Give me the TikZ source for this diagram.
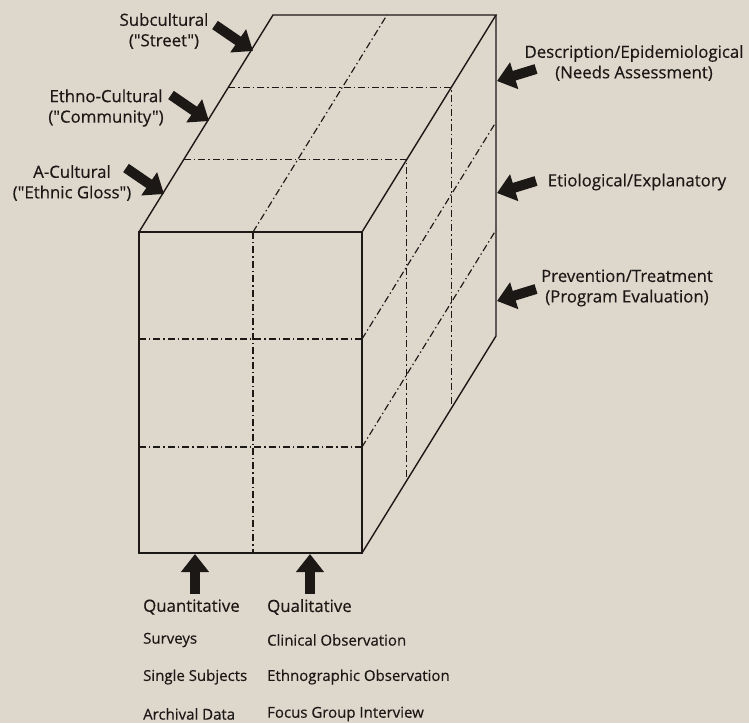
\documentclass[tikz,border=0pt]{standalone}
\usepackage{fontspec}
\newfontfamily\labfont{Open Sans}[FakeBold=0.4]
\usetikzlibrary{arrows.meta,calc}
\definecolor{paper}{RGB}{222,215,204}
\definecolor{ink}{RGB}{28,24,22}
\tikzset{
  edge/.style={draw=ink, line width=1.4pt, line join=miter},
  grid/.style={draw=ink, line width=1.15pt, dash pattern=on 7pt off 3pt on 1.4pt off 3pt},
  blockarrow/.style={draw=ink, line width=10pt, -{Triangle[width=27pt,length=18pt]}},
  lab/.style={text=ink, font=\labfont\fontsize{16.8}{20.5}\selectfont, align=center, inner sep=0pt},
  sub/.style={text=ink, font=\labfont\fontsize{15}{18}\selectfont, anchor=west, inner sep=0pt},
}
\begin{document}
\begin{tikzpicture}[x=1pt,y=-1pt]
\fill[paper] (0,0) rectangle (749,723);
\useasboundingbox (0,0) rectangle (749,723);

% corners of the box: front face and back edges
\coordinate (F1) at (139,232);
\coordinate (F2) at (362,232);
\coordinate (F3) at (362,553);
\coordinate (F4) at (139,553);
\coordinate (B1) at (273,15);
\coordinate (B2) at (496,15);
\coordinate (B3) at (496,336);

% grid lines on the three visible faces
\draw[grid] (253,232) -- (387,15);
\draw[grid] (253,232) -- (253,553);
\draw[grid] (139,339) -- (362,339);
\draw[grid] (139,447) -- (362,447);
\draw[grid] (228.3,87.3) -- (451.3,87.3) -- (451.3,408.3);
\draw[grid] (183.7,159.7) -- (406.7,159.7) -- (406.7,480.7);
\draw[grid] (362,339) -- (496,122);
\draw[grid] (362,447) -- (496,230);

% solid outline
\draw[edge] (F1) -- (F2) -- (F3) -- (F4) -- cycle;
\draw[edge] (F1) -- (B1) -- (B2) -- (F2);
\draw[edge] (B2) -- (B3) -- (F3);

% left labels
\node[lab] (sub) at (164,31) {Subcultural\\("Street")};
\node[lab] (eth) at (106,108) {Ethno-Cultural\\("Community")};
\node[lab] (acu) at (72,183) {A-Cultural\\("Ethnic Gloss")};
\coordinate (subT) at (215,25);  \coordinate (subH) at (253,51);
\coordinate (ethT) at (171,95);  \coordinate (ethH) at (209,121);
\coordinate (acuT) at (126,168); \coordinate (acuH) at (164,194);
\draw[blockarrow] (subT) -- (subH);
\draw[blockarrow] (ethT) -- (ethH);
\draw[blockarrow] (acuT) -- (acuH);

% right labels
\node[lab] (des) at (634,63) {Description/Epidemiological\\(Needs Assessment)};
\node[lab] (eti) at (637,182) {Etiological/Explanatory};
\node[lab] (pre) at (627,288) {Prevention/Treatment\\(Program Evaluation)};
\coordinate (desT) at (536,69);  \coordinate (desH) at (497,81);
\coordinate (etiT) at (536,181); \coordinate (etiH) at (497,193);
\coordinate (preT) at (536,289); \coordinate (preH) at (497,301);
\draw[blockarrow] (desT) -- (desH);
\draw[blockarrow] (etiT) -- (etiH);
\draw[blockarrow] (preT) -- (preH);

% bottom labels
\coordinate (qnT) at (195,594); \coordinate (qnH) at (195,554);
\coordinate (qlT) at (310,594); \coordinate (qlH) at (310,554);
\draw[blockarrow] (qnT) -- (qnH);
\draw[blockarrow] (qlT) -- (qlH);
\node[lab, anchor=west] (qn) at (143,607) {Quantitative};
\node[lab, anchor=west] (ql) at (267,607) {Qualitative};
\node[sub] (s1) at (143,640) {Surveys};
\node[sub] (s2) at (143,677) {Single Subjects};
\node[sub] (s3) at (143,714) {Archival Data};
\node[sub] (c1) at (267,640) {Clinical Observation};
\node[sub] (c2) at (267,677) {Ethnographic Observation};
\node[sub] (c3) at (267,714) {Focus Group Interview};
\end{tikzpicture}
\end{document}
